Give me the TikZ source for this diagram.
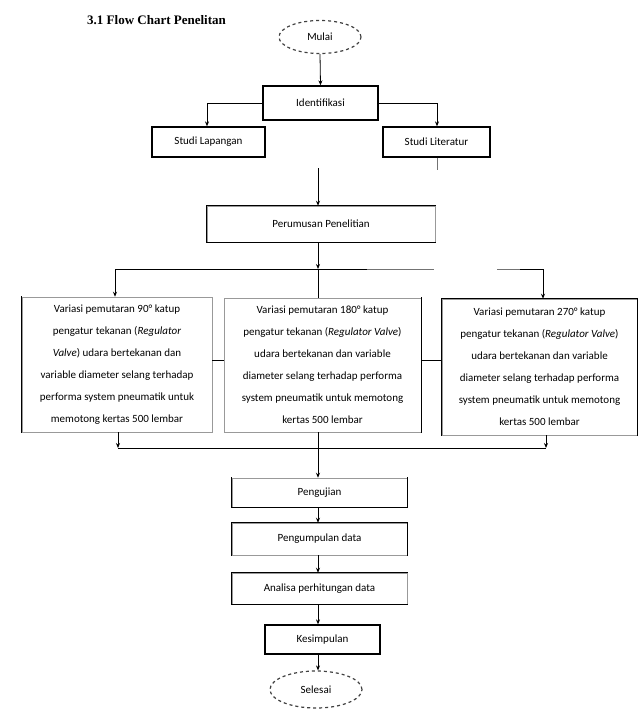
\documentclass[tikz,border=0pt]{standalone}
\usepackage{fontspec}
\setmainfont{Carlito}
\newfontfamily\titlefont{Liberation Serif}
\usetikzlibrary{arrows.meta,shapes.geometric}
\begin{document}
\begin{tikzpicture}[x=1pt,y=-1pt,
  txt/.style={font=\fontsize{11}{13}\selectfont},
  box/.style={txt, draw=black!40, line width=0.5pt, fill=white, align=center, inner sep=2pt},
  tbox/.style={box, draw=black, line width=1.3pt},
  vbox/.style={box, font=\fontsize{11}{22}\selectfont},
  term/.style={txt, ellipse, draw=black!75, dashed, line width=1.2pt, fill=white},
  thk/.style={line width=1.4pt, line cap=rect, black},
  conn/.style={line width=0.8pt, black},
  faint/.style={line width=1pt, black!55},
  arr/.style={conn, -{Stealth[length=5pt,width=4pt]}}
]
\useasboundingbox (0,0) rectangle (639,712);

% title
\node[anchor=west, inner sep=0pt, font=\titlefont\bfseries\fontsize{13}{15}\selectfont] (title) at (87,20) {3.1 Flow Chart Penelitan};

% top part
\node[term, minimum width=82pt, minimum height=33pt] (mulai) at (320,37) {Mulai};
\node[tbox, minimum width=115pt, minimum height=34pt] (ident) at (320.5,103) {Identifikasi};
\node[tbox, minimum width=113pt, minimum height=30pt] (lap) at (208.5,142) {Studi Lapangan};
\node[tbox, minimum width=107pt, minimum height=30pt] (lit) at (436.5,142) {Studi Literatur};
\node[box, minimum width=228pt, minimum height=36pt] (perum) at (321,224) {Perumusan Penelitian};
\draw[thk] (perum.north east) -- (perum.north west) -- (perum.south west) -- (perum.south east);

% variation boxes
\node[vbox, minimum width=190pt, minimum height=135pt] (v1) at (117,364.5)
 {Variasi pemutaran 90° katup\\pengatur tekanan (\textit{Regulator}\\\textit{Valve}) udara bertekanan dan\\variable diameter selang terhadap\\performa system pneumatik untuk\\memotong kertas 500 lembar};
\draw[thk] (v1.north west) -- (v1.south west);
\node[vbox, minimum width=197pt, minimum height=134pt] (v2) at (322.5,365)
 {Variasi pemutaran 180° katup\\pengatur tekanan (\textit{Regulator Valve})\\udara bertekanan dan variable\\diameter selang terhadap performa\\system pneumatik untuk memotong\\kertas 500 lembar};
\draw[thk] (v2.north east) -- (v2.south east);
\node[vbox, minimum width=195pt, minimum height=136pt] (v3) at (539.5,367)
 {Variasi pemutaran 270° katup\\pengatur tekanan (\textit{Regulator Valve})\\udara bertekanan dan variable\\diameter selang terhadap performa\\system pneumatik untuk memotong\\kertas 500 lembar};
\draw[thk] (v3.south west) -- (v3.north west) -- (v3.north east) -- (v3.south east);

% bottom part
\node[box, minimum width=175pt, minimum height=29pt] (uji) at (319.5,492.5) {Pengujian};
\draw[thk] (uji.north west) -- (uji.south west) -- (uji.south east) -- (uji.north east);
\node[box, minimum width=175pt, minimum height=32pt] (kumpul) at (319.5,539) {Pengumpulan data};
\draw[thk] (kumpul.south west) -- (kumpul.north west) -- (kumpul.north east) -- (kumpul.south east);
\node[box, minimum width=175pt, minimum height=31pt] (analisa) at (319.5,588.5) {Analisa perhitungan data};
\draw[thk] (analisa.north east) -- (analisa.north west) -- (analisa.south west) -- (analisa.south east);
\node[tbox, minimum width=115pt, minimum height=29pt] (simpul) at (322.5,639.5) {Kesimpulan};
\node[term, minimum width=92pt, minimum height=37pt] (selesai) at (316,689.5) {Selesai};

% coordinates
\coordinate (litend) at (437,170);
\coordinate (cstart) at (318,168);
\coordinate (hl) at (115,269);
\coordinate (hm) at (318,269);
\coordinate (hr1) at (434,269);
\coordinate (hr2) at (497,269);
\coordinate (hr) at (543,269);
\coordinate (bl) at (118,448);
\coordinate (bm) at (318,448);
\coordinate (br) at (546,448);

% connectors top
\draw[arr] (mulai.south) -- (ident.north);
\draw[arr] (ident.west) -| (lap.north -| 207,0);
\draw[arr] (ident.east) -| (lit.north -| 437,0);
\draw[faint] (lit.south -| litend) -- (litend);
\draw[arr] (cstart) -- (perum.north -| cstart);

% connectors to variation boxes
\draw[arr] (perum.south -| hm) -- (hm);
\draw[conn] (hm) -- (v2.north -| hm);
\draw[conn] (hm) -- (hl);
\draw[conn] (hm) -- (367,269);
\draw[faint] (367,269) -- (hr1);
\draw[faint] (hr2) -- (520,269);
\draw[conn] (520,269) -- (hr);
\draw[arr] (hl) -- (v1.north -| hl);
\draw[arr] (hr) -- (v3.north -| hr);
\draw[conn] (v1.east |- 0,360) -- (v2.west |- 0,360);
\draw[conn] (v2.east |- 0,360) -- (v3.west |- 0,360);

% bottom bracket
\draw[arr] (v1.south -| bl) -- (bl);
\draw[arr] (v3.south -| br) -- (br);
\draw[conn] (bl) -- (br);
\draw[conn] (v2.south -| bm) -- (bm);
\draw[arr] (bm) -- (uji.north -| bm);

% connectors bottom
\draw[arr] (uji.south -| 318,0) -- (kumpul.north -| 318,0);
\draw[arr] (kumpul.south -| 318,0) -- (analisa.north -| 318,0);
\draw[arr] (analisa.south -| 318,0) -- (simpul.north -| 318,0);
\draw[arr] (simpul.south -| 318,0) -- (selesai.north -| 318,0);
\end{tikzpicture}
\end{document}
